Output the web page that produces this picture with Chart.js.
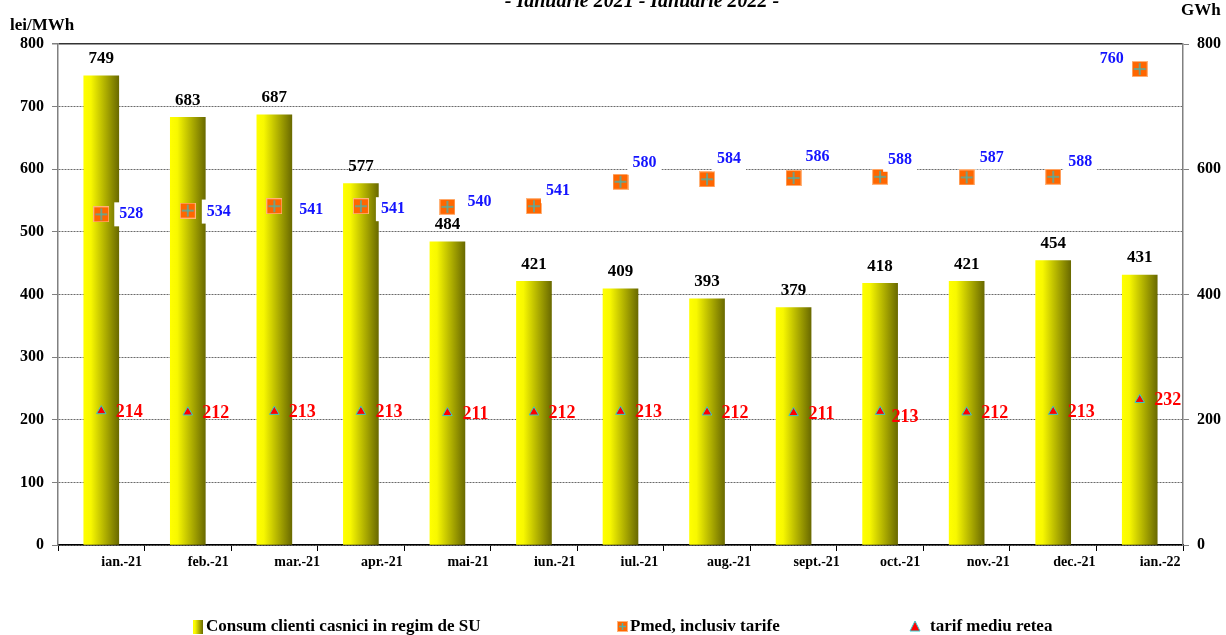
<!DOCTYPE html>
<html>
<head>
<meta charset="utf-8">
<script src="https://cdn.jsdelivr.net/npm/chart.js@4.4.1/dist/chart.umd.min.js"></script>
<style>
    html, body { margin: 0; padding: 0; background: #fff; }
    #wrap { width: 1226px; height: 635px; position: relative; }
</style>
</head>
<body>
<div id="wrap"><canvas id="pretChart"></canvas></div>
<script>
// Luni si valori
const luni = ['ian.-21', 'feb.-21', 'mar.-21', 'apr.-21', 'mai-21', 'iun.-21', 'iul.-21',
              'aug.-21', 'sept.-21', 'oct.-21', 'nov.-21', 'dec.-21', 'ian.-22'];
const consumSU = [749, 683, 687, 577, 484, 421, 409, 393, 379, 418, 421, 454, 431];      // GWh
const pretMediu = [528, 534, 541, 541, 540, 541, 580, 584, 586, 588, 587, 588, 760];     // lei/MWh
const tarifRetea = [214, 212, 213, 213, 211, 212, 213, 212, 211, 213, 212, 213, 232];    // lei/MWh

const axaMin = 0;
const axaMax = 800;
const pasStanga = 100;
const pasDreapta = 200;

const legenda = ['Consum clienti casnici in regim de SU', 'Pmed, inclusiv tarife', 'tarif mediu retea'];
const titlu = '- Ianuarie 2021 - Ianuarie 2022 -';

const FONT = '"Liberation Serif", "Times New Roman", serif';
const BAR_W = 35;

// where each Pmed label sits relative to its marker
const pmedNudge = [[30, 0], [31, 1], [37, 4], [32, 3], [32, -5], [24, -15], [24, -19],
                   [22, -20], [24, -21], [20, -17], [25, -20], [27, -15], [-28, -10]];
const tarifNudge = i => (i === 9 ? [25, 6] : [28, 1]);

function pmedMarker(size) {
    const c = document.createElement('canvas');
    c.width = size; c.height = size;
    const g = c.getContext('2d');
    g.fillStyle = '#ff6600';
    g.fillRect(0, 0, size, size);
    g.strokeStyle = '#ffb37a';
    g.lineWidth = 1;
    g.strokeRect(0.5, 0.5, size - 1, size - 1);
    g.strokeStyle = '#4fb0a6';
    g.lineWidth = 1.5;
    const m = size / 2;
    g.beginPath();
    g.moveTo(m, 2); g.lineTo(m, size - 2);
    g.moveTo(2, m); g.lineTo(size - 2, m);
    g.stroke();
    return c;
}
const pmedPoint = pmedMarker(16);
const pmedLegendPoint = pmedMarker(11);

function barGradient(g, x0, x1) {
    const grad = g.createLinearGradient(x0, 0, x1, 0);
    grad.addColorStop(0, '#ffff00');
    grad.addColorStop(0.2, '#f8f800');
    grad.addColorStop(1, '#6a6a00');
    return grad;
}

function barFill(c) {
    const chart = c.chart;
    const x = chart.scales.x;
    if (!chart.chartArea || !x || c.dataIndex === undefined) return '#d8d800';
    const cx = x.getPixelForValue(c.dataIndex);
    return barGradient(chart.ctx, cx - BAR_W / 2, cx + BAR_W / 2);
}

const etichete = {
    id: 'etichete',
    afterDatasetsDraw(chart) {
        const g = chart.ctx;
        g.save();
        g.textBaseline = 'middle';
        g.textAlign = 'center';

        // values above the bars
        g.font = 'bold 17px ' + FONT;
        g.fillStyle = '#000';
        chart.getDatasetMeta(0).data.forEach((el, i) => {
            g.fillText(String(consumSU[i]), el.x, el.y - 17);
        });

        // Pmed labels on white boxes
        g.font = 'bold 16px ' + FONT;
        chart.getDatasetMeta(1).data.forEach((el, i) => {
            const [dx, dy] = pmedNudge[i];
            const t = String(pretMediu[i]);
            const w = g.measureText(t).width + 10;
            g.fillStyle = '#fff';
            g.fillRect(el.x + dx - w / 2, el.y + dy - 12, w, 24);
            g.fillStyle = '#1414ff';
            g.fillText(t, el.x + dx, el.y + dy);
        });

        // tarif labels
        g.font = 'bold 18px ' + FONT;
        g.fillStyle = '#ff0000';
        chart.getDatasetMeta(2).data.forEach((el, i) => {
            const [dx, dy] = tarifNudge(i);
            g.fillText(String(tarifRetea[i]), el.x + dx, el.y + dy);
        });
        g.restore();
    }
};

const titluriSiLegenda = {
    id: 'titluriSiLegenda',
    afterDraw(chart) {
        const g = chart.ctx;
        g.save();
        g.fillStyle = '#000';
        g.textBaseline = 'alphabetic';
        g.textAlign = 'center';
        g.font = 'italic bold 20px ' + FONT;
        g.fillText(titlu, 642, 7);

        g.textBaseline = 'middle';
        g.textAlign = 'left';
        g.font = 'bold 17px ' + FONT;
        g.fillText('lei/MWh', 10, 26);
        g.fillText('GWh', 1181, 11);

        // legend
        const ly = 627;
        g.font = 'bold 17px ' + FONT;
        g.fillStyle = barGradient(g, 193, 203);
        g.fillRect(193, ly - 7, 10, 14);
        g.fillStyle = '#000';
        g.fillText(legenda[0], 206, ly);

        g.drawImage(pmedLegendPoint, 617, ly - 6);
        g.fillStyle = '#000';
        g.fillText(legenda[1], 630, ly);

        g.beginPath();
        g.moveTo(915, ly - 6);
        g.lineTo(920, ly + 4);
        g.lineTo(910, ly + 4);
        g.closePath();
        g.fillStyle = '#ff0000';
        g.fill();
        g.strokeStyle = '#33cccc';
        g.lineWidth = 1;
        g.stroke();
        g.fillStyle = '#000';
        g.fillText(legenda[2], 930, ly);
        g.restore();
    }
};

new Chart(document.getElementById('pretChart').getContext('2d'), {
    type: 'bar',
    data: {
        labels: luni,
        datasets: [{
            type: 'bar',
            label: legenda[0],
            data: consumSU,
            yAxisID: 'y1',
            backgroundColor: barFill,
            borderWidth: 0,
            barThickness: BAR_W,
            order: 3
        }, {
            type: 'line',
            label: legenda[1],
            data: pretMediu,
            yAxisID: 'y',
            showLine: false,
            pointStyle: pmedPoint,
            order: 2
        }, {
            type: 'line',
            label: legenda[2],
            data: tarifRetea,
            yAxisID: 'y',
            showLine: false,
            pointStyle: 'triangle',
            pointRadius: 5.5,
            pointBackgroundColor: '#ff0000',
            pointBorderColor: '#33cccc',
            pointBorderWidth: 1,
            order: 1
        }]
    },
    options: {
        responsive: true,
        maintainAspectRatio: false,
        animation: false,
        layout: { padding: { top: 44, bottom: 60, left: 0, right: 0 } },
        plugins: {
            legend: { display: false },
            tooltip: { enabled: false }
        },
        scales: {
            x: {
                offset: true,
                afterFit: s => { s.height = 30; },
                grid: { display: true, drawOnChartArea: false, drawTicks: true, tickLength: 6, color: '#000', offset: true },
                border: { display: true, color: '#000', width: 1.5 },
                ticks: {
                    align: 'start', autoSkip: false, maxRotation: 0, padding: 3,
                    color: '#000', font: { family: FONT, size: 14, weight: 'bold' }
                }
            },
            y: {
                position: 'left',
                min: axaMin, max: axaMax,
                afterFit: s => { s.width = 58; },
                ticks: { stepSize: pasStanga, padding: 8, color: '#000', font: { family: FONT, size: 16, weight: 'bold' } },
                grid: {
                    color: c => (c.tick && c.tick.value === axaMax ? '#333' : '#6a6a6a'),
                    lineWidth: c => (c.tick && c.tick.value === axaMax ? 1.5 : 1),
                    tickLength: 6, tickColor: '#808080'
                },
                border: {
                    color: '#808080', width: 1.5,
                    dash: c => (c.tick && c.tick.value === axaMax ? [] : [2, 1])
                }
            },
            y1: {
                position: 'right',
                min: axaMin, max: axaMax,
                afterFit: s => { s.width = 43; },
                ticks: { stepSize: pasDreapta, padding: 8, color: '#000', font: { family: FONT, size: 16, weight: 'bold' } },
                grid: { drawOnChartArea: false, tickLength: 6, tickColor: '#808080' },
                border: { color: '#808080', width: 1.5 }
            }
        }
    },
    plugins: [etichete, titluriSiLegenda]
});
</script>
</body>
</html>
